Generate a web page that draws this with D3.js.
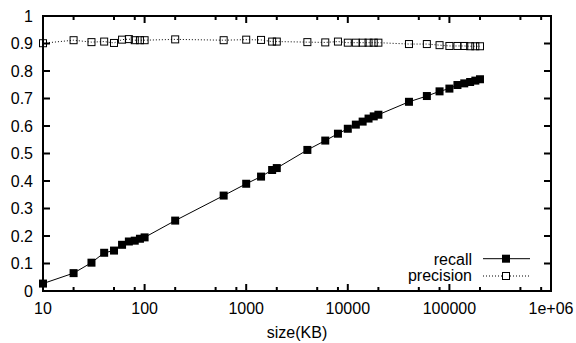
<!DOCTYPE html>
<html>
<head>
<meta charset="utf-8">
<script src="https://cdn.jsdelivr.net/npm/d3@7"></script>
<style>
  body { margin: 0; background: #fff; }
  svg { display: block; }
  text { font-family: "Liberation Sans", Arial, sans-serif; font-size: 16px; fill: #000; }
</style>
</head>
<body>
<div id="chart"></div>
<script>
// sizes in KB
sizes = [10, 20, 30, 40, 50, 60, 70, 80, 90, 100, 200, 600, 1000, 1400, 1800, 2000,
         4000, 6000, 8000, 10000, 12000, 14000, 16000, 18000, 20000,
         40000, 60000, 80000, 100000, 120000, 140000, 160000, 180000, 200000];

recall = [0.027, 0.065, 0.103, 0.139, 0.147, 0.168, 0.180, 0.183, 0.190, 0.195, 0.256, 0.347,
          0.390, 0.416, 0.440, 0.447, 0.513, 0.547, 0.572, 0.590, 0.605, 0.616, 0.627, 0.635,
          0.641, 0.688, 0.709, 0.726, 0.736, 0.749, 0.755, 0.760, 0.765, 0.770];

precision = [0.901, 0.912, 0.905, 0.907, 0.902, 0.914, 0.916, 0.912, 0.912, 0.912, 0.915, 0.912,
             0.914, 0.913, 0.907, 0.907, 0.905, 0.904, 0.907, 0.903, 0.903, 0.903, 0.903, 0.903,
             0.903, 0.898, 0.898, 0.894, 0.891, 0.891, 0.891, 0.890, 0.890, 0.890];

xMajor = [10, 100, 1000, 10000, 100000, 1000000];
xMajorLabels = ["10", "100", "1000", "10000", "100000", "1e+06"];
xMinor = [20, 50, 80, 200, 500, 800, 2000, 5000, 8000, 20000, 50000, 80000, 200000, 500000, 800000];
yTicks = [0, 0.1, 0.2, 0.3, 0.4, 0.5, 0.6, 0.7, 0.8, 0.9, 1];

width = 576;
height = 343;
plotLeft = 43; plotRight = 551; plotTop = 16; plotBottom = 291;
majorLen = 7;
minorLen = 4;

xScale = d3.scaleLog().domain([10, 1000000]).range([plotLeft, plotRight]);
yScale = d3.scaleLinear().domain([0, 1]).range([plotBottom, plotTop]);

svg = d3.select("#chart").append("svg")
    .attr("width", width)
    .attr("height", height);

/* ticks (inward, mirrored) */
ticks = svg.append("g").attr("stroke", "#000").attr("stroke-width", 2);

xMajor.forEach(function (v) {
    ticks.append("line").attr("x1", xScale(v)).attr("x2", xScale(v)).attr("y1", plotBottom).attr("y2", plotBottom - majorLen);
    ticks.append("line").attr("x1", xScale(v)).attr("x2", xScale(v)).attr("y1", plotTop).attr("y2", plotTop + majorLen);
});
xMinor.forEach(function (v) {
    ticks.append("line").attr("x1", xScale(v)).attr("x2", xScale(v)).attr("y1", plotBottom).attr("y2", plotBottom - minorLen);
    ticks.append("line").attr("x1", xScale(v)).attr("x2", xScale(v)).attr("y1", plotTop).attr("y2", plotTop + minorLen);
});
yTicks.forEach(function (v) {
    ticks.append("line").attr("x1", plotLeft).attr("x2", plotLeft + majorLen).attr("y1", yScale(v)).attr("y2", yScale(v));
    ticks.append("line").attr("x1", plotRight).attr("x2", plotRight - majorLen).attr("y1", yScale(v)).attr("y2", yScale(v));
});

/* border */
svg.append("rect")
    .attr("x", plotLeft).attr("y", plotTop)
    .attr("width", plotRight - plotLeft).attr("height", plotBottom - plotTop)
    .attr("fill", "none").attr("stroke", "#000").attr("stroke-width", 2);

/* tick labels */
svg.append("g").selectAll("text")
    .data(yTicks).enter()
    .append("text")
    .attr("x", 33)
    .attr("y", d => yScale(d))
    .attr("dy", "0.36em")
    .attr("text-anchor", "end")
    .text(d => d3.format("")(d));

svg.append("g").selectAll("text")
    .data(xMajor).enter()
    .append("text")
    .attr("x", d => xScale(d))
    .attr("y", 314)
    .attr("text-anchor", "middle")
    .text((d, i) => xMajorLabels[i]);

svg.append("text")
    .attr("x", (plotLeft + plotRight) / 2)
    .attr("y", 338)
    .attr("text-anchor", "middle")
    .text("size(KB)");

/* lines */
line = d3.line().x((d, i) => xScale(sizes[i])).y(d => yScale(d));

svg.append("path")
    .attr("d", line(precision))
    .attr("fill", "none")
    .attr("stroke", "#000")
    .attr("stroke-width", 1)
    .attr("stroke-dasharray", "1,2");

svg.append("path")
    .attr("d", line(recall))
    .attr("fill", "none")
    .attr("stroke", "#000")
    .attr("stroke-width", 1);

sq = 7;

svg.append("g").selectAll("rect")
    .data(precision).enter()
    .append("rect")
    .attr("x", (d, i) => xScale(sizes[i]) - sq / 2)
    .attr("y", d => yScale(d) - sq / 2)
    .attr("width", sq).attr("height", sq)
    .attr("fill", "none")
    .attr("stroke", "#000")
    .attr("stroke-width", 1);

svg.append("g").selectAll("rect")
    .data(recall).enter()
    .append("rect")
    .attr("x", (d, i) => xScale(sizes[i]) - (sq + 1) / 2)
    .attr("y", d => yScale(d) - (sq + 1) / 2)
    .attr("width", sq + 1).attr("height", sq + 1)
    .attr("fill", "#000");

/* legend */
legend = svg.append("g");
legend.append("text").attr("x", 472).attr("y", 264.5).attr("text-anchor", "end").text("recall");
legend.append("line").attr("x1", 483).attr("x2", 530).attr("y1", 258.7).attr("y2", 258.7)
    .attr("stroke", "#000").attr("stroke-width", 1);
legend.append("rect").attr("x", 502).attr("y", 254.7).attr("width", 8).attr("height", 8).attr("fill", "#000");

legend.append("text").attr("x", 472).attr("y", 281).attr("text-anchor", "end").text("precision");
legend.append("line").attr("x1", 483).attr("x2", 530).attr("y1", 276).attr("y2", 276)
    .attr("stroke", "#000").attr("stroke-width", 1).attr("stroke-dasharray", "1,2");
legend.append("rect").attr("x", 502.5).attr("y", 272.5).attr("width", 7).attr("height", 7)
    .attr("fill", "#fff").attr("stroke", "#000").attr("stroke-width", 1);
</script>
</body>
</html>
